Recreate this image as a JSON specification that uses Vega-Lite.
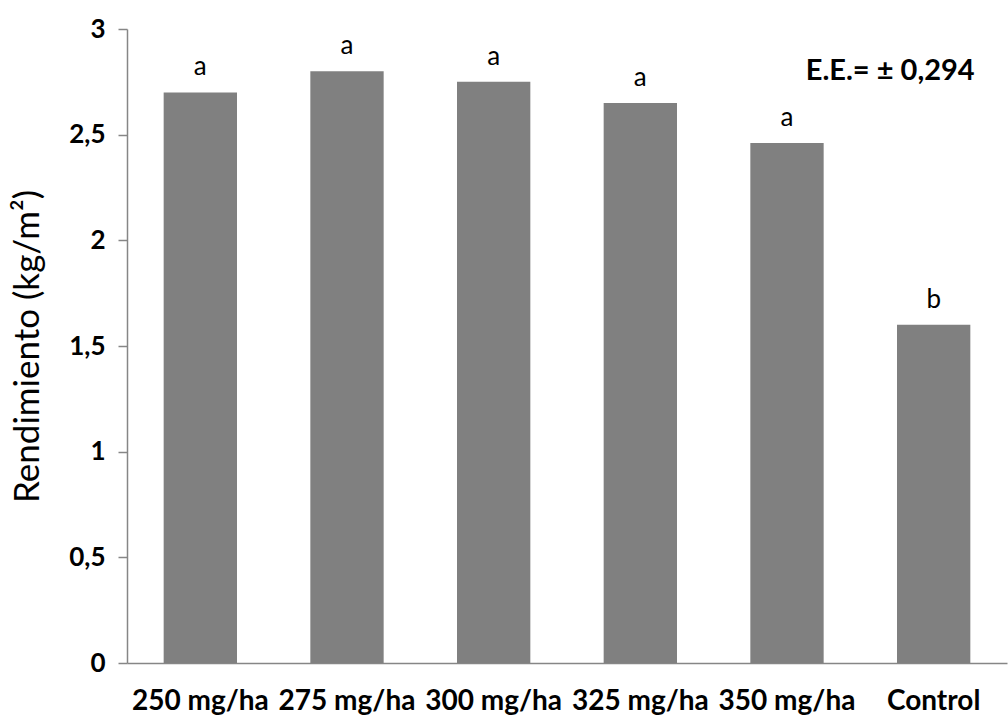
{
  "$schema": "https://vega.github.io/schema/vega-lite/v6.json",
  "width": 880,
  "height": 634,
  "autosize": "none",
  "padding": {"left": 127, "top": 29, "right": 1, "bottom": 59},
  "background": "white",
  "config": {"view": {"stroke": null}, "font": "Lato"},
  "data": {
    "values": [
      {"tratamiento": "250 mg/ha", "rendimiento": 2.70, "letra": "a"},
      {"tratamiento": "275 mg/ha", "rendimiento": 2.80, "letra": "a"},
      {"tratamiento": "300 mg/ha", "rendimiento": 2.75, "letra": "a"},
      {"tratamiento": "325 mg/ha", "rendimiento": 2.65, "letra": "a"},
      {"tratamiento": "350 mg/ha", "rendimiento": 2.46, "letra": "a"},
      {"tratamiento": "Control", "rendimiento": 1.60, "letra": "b"}
    ]
  },
  "encoding": {
    "x": {
      "field": "tratamiento",
      "type": "nominal",
      "sort": null,
      "scale": {"paddingInner": 0.5, "paddingOuter": 0.25},
      "axis": {
        "title": null,
        "labelAngle": 0,
        "labelFont": "Lato",
        "labelFontWeight": "bold",
        "labelFontSize": 28,
        "labelColor": "#000000",
        "labelPadding": 24,
        "ticks": false,
        "domainColor": "#868686",
        "domainWidth": 1.5,
        "labelOverlap": false
      }
    },
    "y": {
      "field": "rendimiento",
      "type": "quantitative",
      "scale": {"domain": [0, 3], "nice": false},
      "axis": {
        "title": "Rendimiento (kg/m²)",
        "titleFont": "Lato",
        "titleFontSize": 35,
        "titleFontWeight": "normal",
        "titleColor": "#000000",
        "titleX": -100,
        "titleY": 317,
        "titleAngle": -90,
        "titleAlign": "center",
        "titleBaseline": "middle",
        "values": [0, 0.5, 1, 1.5, 2, 2.5, 3],
        "labelExpr": "replace(format(datum.value, '~g'), '.', ',')",
        "labelFont": "Lato",
        "labelFontWeight": "bold",
        "labelFontSize": 26,
        "labelColor": "#000000",
        "labelPadding": 13,
        "tickSize": 9,
        "tickColor": "#868686",
        "tickWidth": 1.5,
        "domainColor": "#868686",
        "domainWidth": 1.5,
        "grid": false
      }
    }
  },
  "layer": [
    {"mark": {"type": "bar", "color": "#808080"}},
    {
      "mark": {"type": "text", "baseline": "bottom", "dy": -12, "fontSize": 26, "font": "Lato", "color": "#000000"},
      "encoding": {"text": {"field": "letra"}}
    },
    {
      "data": {"values": [{"tratamiento": "Control", "rendimiento": 2.80, "texto": "E.E.= ± 0,294"}]},
      "mark": {"type": "text", "align": "right", "baseline": "middle", "dx": 41, "fontSize": 29, "fontWeight": "bold", "font": "Lato", "color": "#000000"},
      "encoding": {"text": {"field": "texto"}}
    }
  ]
}
